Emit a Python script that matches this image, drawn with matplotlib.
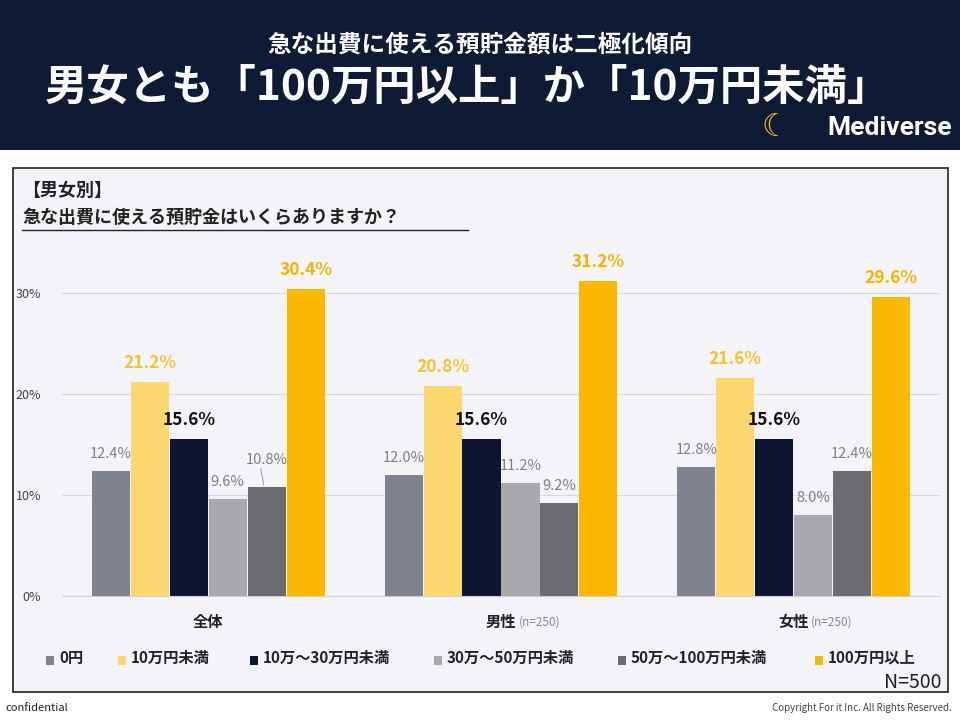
import matplotlib.pyplot as plt
from matplotlib.patches import Rectangle
import numpy as np

plt.rcParams['font.family'] = ['Noto Sans CJK JP', 'DejaVu Sans']

groups = ['全体', '男性', '女性']
group_notes = ['', '(n=250)', '(n=250)']
categories = ['0円', '10万円未満', '10万～30万円未満', '30万～50万円未満', '50万～100万円未満', '100万円以上']
values = [
    [12.4, 12.0, 12.8],
    [21.2, 20.8, 21.6],
    [15.6, 15.6, 15.6],
    [9.6, 11.2, 8.0],
    [10.8, 9.2, 12.4],
    [30.4, 31.2, 29.6],
]
colors = ['#7f838e', '#fcd770', '#0d1533', '#a9a9ad', '#6e6b70', '#fbb800']
label_colors = ['#7f7f7f', '#f5c232', '#111111', '#7f7f7f', '#7f7f7f', '#f5b400']
label_bold = [False, True, True, False, False, True]
yticks = [0, 10, 20, 30]

W, H = 960, 720
fig = plt.figure(figsize=(9.6, 7.2), dpi=100)
fig.patch.set_facecolor('white')

def fy(p):
    return 1 - p / H

def fx(p):
    return p / W

# header band
fig.patches.append(Rectangle((0, fy(150)), 1, 150 / H, transform=fig.transFigure,
                             facecolor='#0f1a35', edgecolor='none', zorder=-2))
fig.text(0.5, fy(45), '急な出費に使える預貯金額は二極化傾向', color='white', fontsize=17,
         fontweight='bold', ha='center', va='center')
fig.text(0.487, fy(88), '男女とも「100万円以上」か「10万円未満」', color='white', fontsize=30.5,
         fontweight='bold', ha='center', va='center')
fig.text(fx(952), fy(128), 'Mediverse', color='white', fontsize=19, fontweight='bold',
         ha='right', va='center', family=['Roboto', 'DejaVu Sans'])
fig.text(fx(775), fy(128), '☾', color='#f2c200', fontsize=22, ha='center', va='center',
         family=['DejaVu Sans'])

# panel
fig.patches.append(Rectangle((fx(13), fy(692)), fx(935), 524 / H, transform=fig.transFigure,
                             facecolor='#f4f3f7', edgecolor='#222222', linewidth=1.2, zorder=-2))
fig.text(fx(22), fy(190), '【男女別】', fontsize=13, fontweight='bold', va='center', color='#222222')
fig.text(fx(22), fy(217), '急な出費に使える預貯金はいくらありますか？', fontsize=13, fontweight='bold',
         va='center', color='#222222')
fig.lines.append(plt.Line2D([fx(22), fx(468)], [fy(230), fy(230)], transform=fig.transFigure,
                            color='#222222', linewidth=1))

ax = fig.add_axes([fx(62), fy(596), fx(878), (596 - 253) / H])
ax.set_zorder(1)
ax.set_facecolor('none')
x = np.arange(len(groups))
bw = 0.133
for i, (vals, c) in enumerate(zip(values, colors)):
    pos = x + (i - 2.5) * bw
    ax.bar(pos, vals, width=bw * 0.98, color=c, zorder=2)
    for j, (p, v) in enumerate(zip(pos, vals)):
        dy = 1.0
        if i == 4 and j == 0:
            dy = 2.0
            ax.plot([p - 0.01, p - 0.02], [v + 0.2, v + 1.8], color='#999999', linewidth=0.7, zorder=3)
        ax.text(p, v + dy, f'{v:.1f}%', ha='center', va='bottom', fontsize=12.5 if label_bold[i] else 10.5,
                fontweight='bold' if label_bold[i] else 'normal', color=label_colors[i], zorder=3)

ax.set_xlim(-0.5, 2.5)
ax.set_ylim(0, 34)
ax.set_yticks(yticks)
ax.set_yticklabels([f'{t}%' for t in yticks], fontsize=9, color='#444444')
ax.tick_params(axis='y', length=0, pad=15)
ax.tick_params(axis='x', length=0)
ax.set_xticks([])
for t in yticks[1:]:
    ax.axhline(t, color='#d9d9d9', linewidth=0.8, zorder=1)
for s in ['top', 'right', 'left']:
    ax.spines[s].set_visible(False)
ax.spines['bottom'].set_color('#d0d0d0')
for gx, g, n in zip(x, groups, group_notes):
    ax.text(gx, -2.6, g, ha='center', va='center', fontsize=11, fontweight='bold', color='#222222')
    if n:
        ax.text(gx + 0.06, -2.6, n, ha='left', va='center', fontsize=8.5, color='#888888')

# legend
leg_x = [46, 118, 250, 434, 618, 815]
for lx, c, name in zip(leg_x, colors, categories):
    fig.patches.append(Rectangle((fx(lx), fy(665)), fx(8), 9 / H, transform=fig.transFigure,
                                 facecolor=c, edgecolor='none'))
    fig.text(fx(lx + 13), fy(658), name, fontsize=11, fontweight='bold', va='center', color='#222222')
fig.text(fx(942), fy(683), 'N=500', fontsize=14, ha='right', va='center', color='#222222')

fig.text(fx(5), fy(708), 'confidential', fontsize=8, va='center', color='#222222')
fig.text(fx(952), fy(708), 'Copyright For it Inc. All Rights Reserved.', fontsize=7, ha='right',
         va='center', color='#444444')

fig.savefig('out.png', dpi=100)
